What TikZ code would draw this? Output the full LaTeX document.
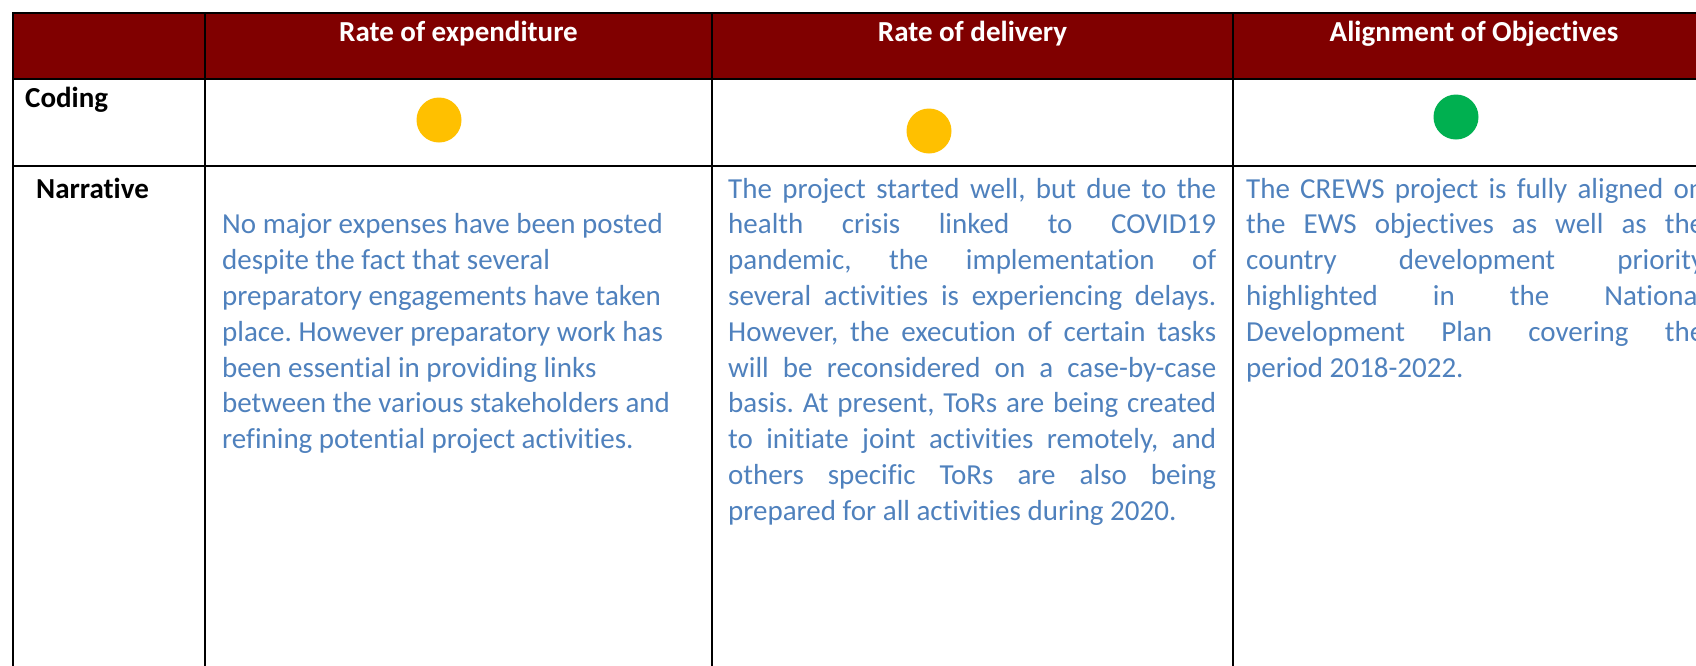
\documentclass[tikz,border=0pt]{standalone}
\usepackage{fontspec}
\setmainfont{Carlito}[RawFeature={-liga;-clig;-dlig}]
\definecolor{maroon}{HTML}{800000}
\definecolor{txtblue}{HTML}{4F81BD}
\definecolor{dotyellow}{HTML}{FFC000}
\definecolor{dotgreen}{HTML}{00B050}
\newcommand{\JL}[2]{\makebox[#1][s]{#2}\\}
\tikzset{
  rule/.style={line width=2.4pt, draw=black},
  headtxt/.style={anchor=base, inner sep=0pt, text=white, font=\fontsize{29}{35.8}\selectfont\bfseries},
  rowtxt/.style={anchor=base west, inner sep=0pt, text=black, font=\fontsize{29}{35.8}\selectfont\bfseries},
  celltxt/.style={anchor=base west, inner sep=0pt, text=txtblue, align=left, font=\fontsize{29}{35.8}\selectfont\frenchspacing},
  dot/.style={circle, inner sep=0pt, minimum size=45pt, draw=none}
}
\begin{document}
\frenchspacing
\begin{tikzpicture}[x=1pt, y=-1pt]
\useasboundingbox (0,0) rectangle (1696,665);
\clip (0,0) rectangle (1696,665);
% header band
\fill[maroon] (13,13) rectangle (1780,79);
% rules
\draw[rule] (13,13) -- (1780,13);
\draw[rule] (13,79) -- (1780,79);
\draw[rule] (13,166) -- (1780,166);
\draw[rule] (13,12) -- (13,680);
\draw[rule] (205,12) -- (205,680);
\draw[rule] (712,12) -- (712,680);
\draw[rule] (1233,12) -- (1233,680);
% header texts
\node[headtxt] (h1) at (458.5,41) {Rate of expenditure};
\node[headtxt] (h2) at (972.5,41) {Rate of delivery};
\node[headtxt] (h3) at (1474,41) {Alignment of Objectives};
% row labels
\node[rowtxt] (coding) at (25,107) {Coding};
\node[rowtxt] (narr) at (36,198) {Narrative};
% dots
\node[dot, fill=dotyellow] (d1) at (439,120) {};
\node[dot, fill=dotyellow] (d2) at (929,131) {};
\node[dot, fill=dotgreen] (d3) at (1456,117) {};
% narratives (anchor = baseline of the last line)
\node[celltxt] (n1) at (222,448.6) {No major expenses have been posted\\
despite the fact that several\\
preparatory engagements have taken\\
place. However preparatory work has\\
been essential in providing links\\
between the various stakeholders and\\
refining potential project activities.};
\node[celltxt] (n2) at (728,520.2) {\JL{488pt}{The project started well, but due to the}
\JL{488pt}{health crisis linked to COVID19}
\JL{488pt}{pandemic, the implementation of}
\JL{488pt}{several activities is experiencing delays.}
\JL{488pt}{However, the execution of certain tasks}
\JL{488pt}{will be reconsidered on a case-by-case}
\JL{488pt}{basis. At present, ToRs are being created}
\JL{488pt}{to initiate joint activities remotely, and}
\JL{488pt}{others specific ToRs are also being}
prepared for all activities during 2020.};
\node[celltxt] (n3) at (1246,377) {\JL{458pt}{The CREWS project is fully aligned on}
\JL{458pt}{the EWS objectives as well as the}
\JL{458pt}{country development priority}
\JL{458pt}{highlighted in the National}
\JL{458pt}{Development Plan covering the}
period 2018-2022.};
\end{tikzpicture}
\end{document}
